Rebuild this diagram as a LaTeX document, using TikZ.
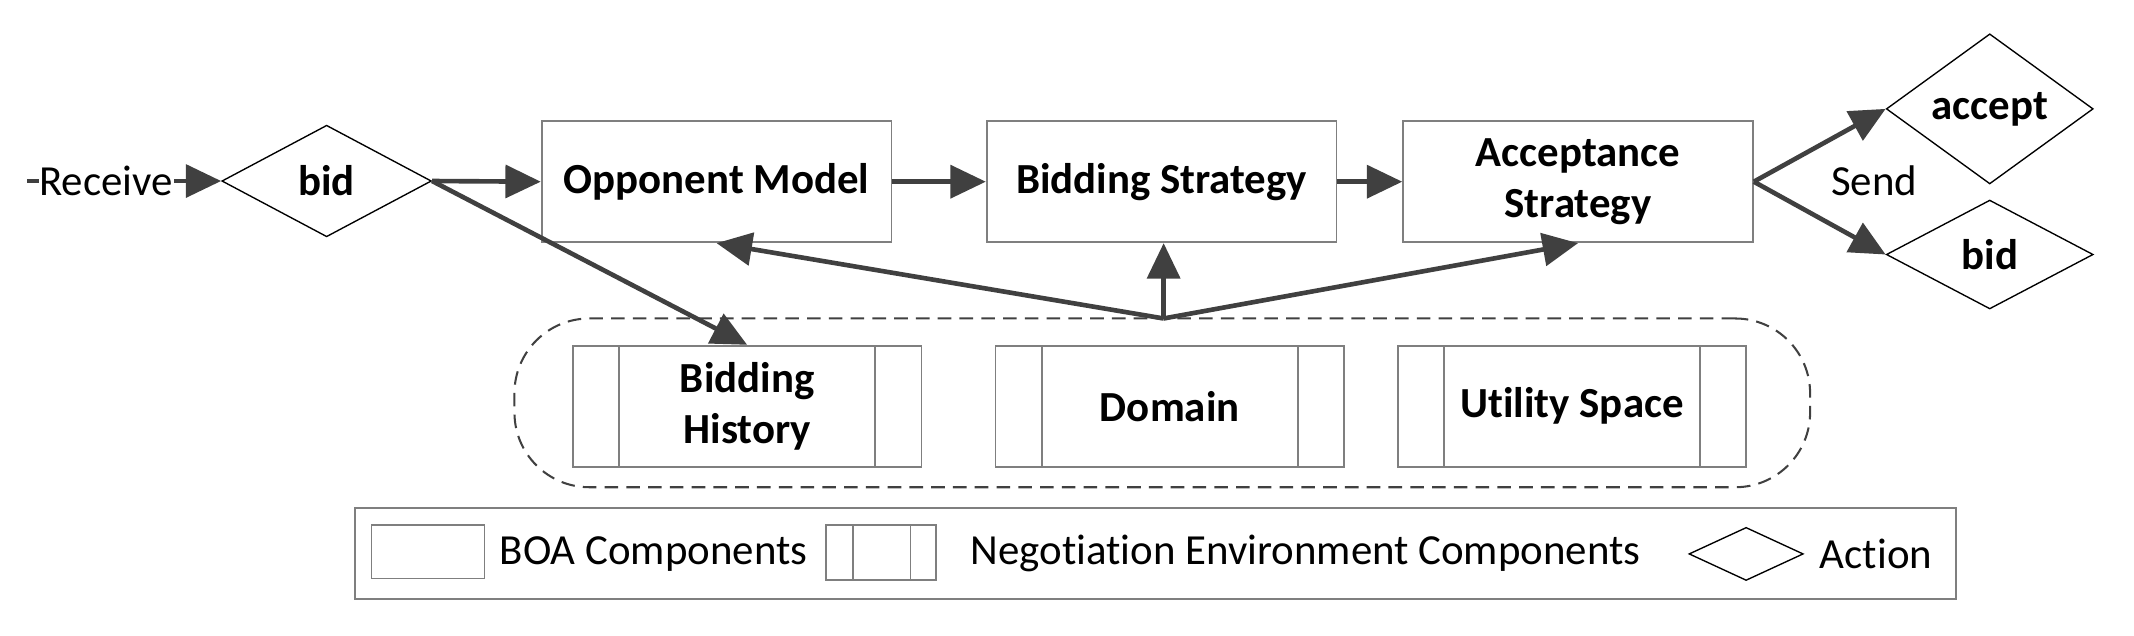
\documentclass[tikz,border=0pt]{standalone}
\usepackage{fontspec}
\setmainfont{Carlito}[Ligatures={NoCommon,NoRare}]
\usetikzlibrary{shapes.geometric,arrows.meta}
\definecolor{arrowgray}{HTML}{404040}
\definecolor{boxgray}{HTML}{7F7F7F}
\begin{document}
\begin{tikzpicture}[x=1pt,y=-1pt,
  lbl/.style={font=\fontsize{31.5}{38}\selectfont},
  boa/.style={draw=boxgray, line width=1.3pt, minimum width=257pt, minimum height=89pt, inner sep=0pt, align=center, font=\bfseries\fontsize{31.5}{38}\selectfont},
  envbox/.style={draw=boxgray, line width=1.3pt, minimum width=256pt, minimum height=89pt, inner sep=0pt, align=center, font=\bfseries\fontsize{31.5}{38}\selectfont,
    path picture={
      \draw[boxgray,line width=1.3pt] ([xshift=34pt]path picture bounding box.north west) -- ([xshift=34pt]path picture bounding box.south west);
      \draw[boxgray,line width=1.3pt] ([xshift=-34pt]path picture bounding box.north east) -- ([xshift=-34pt]path picture bounding box.south east);}},
  act/.style={diamond, draw=black, line width=1pt, minimum width=154pt, minimum height=82pt, inner sep=0pt, font=\bfseries\fontsize{31.5}{38}\selectfont},
  arr/.style={draw=arrowgray, line width=3.4pt, -{Triangle[length=26pt,width=24pt]}},
  legstrip/.style={draw=boxgray, line width=1.3pt, minimum width=81pt, minimum height=40pt, inner sep=0pt,
    path picture={
      \draw[boxgray,line width=1.3pt] ([xshift=20pt]path picture bounding box.north west) -- ([xshift=20pt]path picture bounding box.south west);
      \draw[boxgray,line width=1.3pt] ([xshift=-19pt]path picture bounding box.north east) -- ([xshift=-19pt]path picture bounding box.south east);}}
]
\useasboundingbox (0,0) rectangle (1568,467);

% top row
\coordinate (start) at (20,133);
\node[act] (bid1) at (240,133) {bid};
\node[boa] (om) at (526.5,133.5) {Opponent Model};
\node[boa] (bs) at (853.5,133.5) {Bidding Strategy};
\node[boa] (as) at (1159.5,133.5) {Acceptance\\Strategy};
\node[act, minimum width=152pt, minimum height=80pt] (acc) at (1462,80) {accept};
\node[act, minimum width=152pt, minimum height=80pt] (bid2) at (1462,187) {bid};
\node[lbl] (send) at (1377,133) {Send};

% environment group
\node[draw=arrowgray, dashed, dash pattern=on 10pt off 6pt, line width=1.5pt, rounded corners=55pt, minimum width=952pt, minimum height=124pt] (grp) at (854,296) {};
\node[envbox] (bh) at (549,298.5) {Bidding\\History};
\node[envbox] (dom) at (859.5,298.5) {Domain};
\node[envbox] (us) at (1155,298.5) {Utility Space};
\coordinate (src) at (855,234);

% arrows
\draw[arr] (start) -- (bid1.west);
\node[lbl, fill=white, inner sep=0.5pt] (recv) at (78,133) {Receive};
\draw[arr] (bid1.east) -- (om.west);
\draw[arr] (om.east) -- (bs.west);
\draw[arr] (bs.east) -- (as.west);
\draw[arr] (as.east) -- (acc.west);
\draw[arr] (as.east) -- (bid2.west);
\draw[arr] (bid1.east) -- (bh.north);
\draw[arr] (src) -- (om.south);
\draw[arr] (src) -- (src |- bs.south);
\draw[arr] (src) -- (as.south);

% legend
\node[draw=boxgray, line width=1.3pt, minimum width=1176pt, minimum height=67pt] (leg) at (849,406.5) {};
\node[draw=boxgray, line width=1.3pt, minimum width=83pt, minimum height=39pt] (legboa) at (314.5,405.5) {};
\node[lbl, anchor=west, inner sep=0pt] (legboat) at (367,407) {BOA Components};
\node[legstrip] (legenv) at (647.5,406) {};
\node[lbl, anchor=west, inner sep=0pt] (legenvt) at (713,407) {Negotiation Environment Components};
\node[diamond, draw=black, line width=1pt, minimum width=84pt, minimum height=39pt, inner sep=0pt] (legact) at (1283,407) {};
\node[lbl, anchor=west, inner sep=0pt] (legactt) at (1337,407) {Action};
\end{tikzpicture}
\end{document}
